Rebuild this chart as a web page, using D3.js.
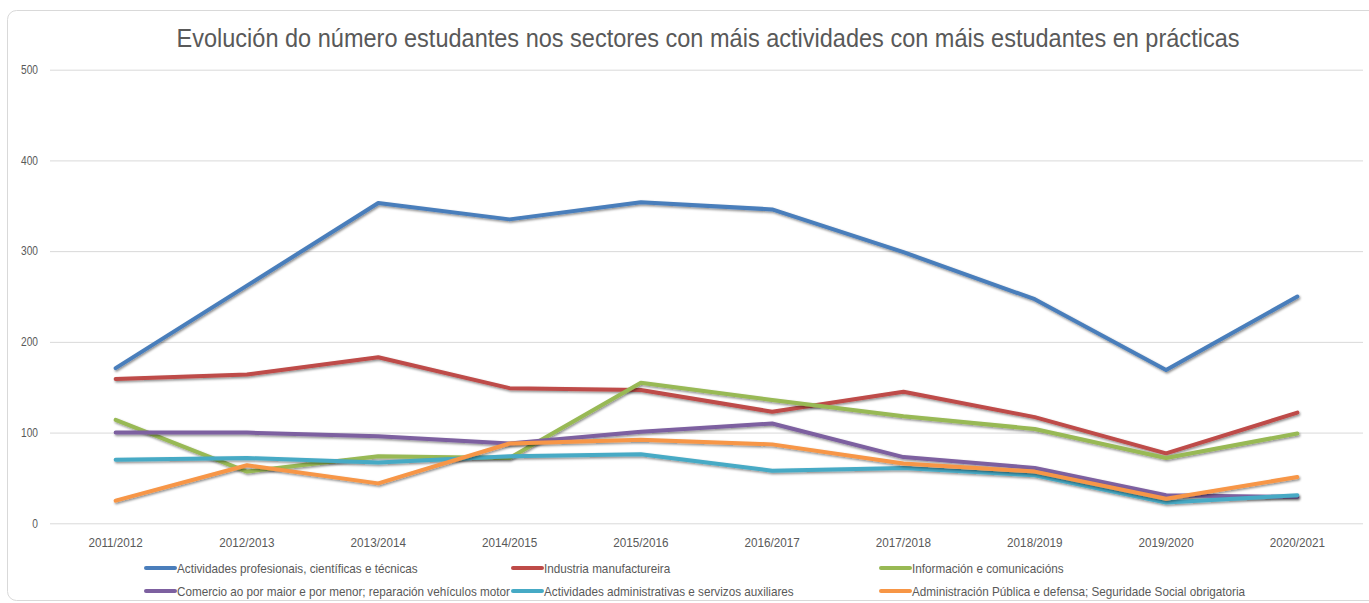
<!DOCTYPE html>
<html>
<head>
<meta charset="utf-8">
<script src="https://cdn.jsdelivr.net/npm/d3@7"></script>
<style>
  html, body { margin: 0; padding: 0; background: #fff; }
  svg { display: block; }
  text { font-family: "Liberation Sans Narrow", "Arial Narrow", "Liberation Sans", sans-serif; fill: #595959; }
</style>
</head>
<body>
<svg id="chart" width="1369" height="603"></svg>
<script>
const title = "Evolución do número estudantes nos sectores con máis actividades con máis estudantes en prácticas";
const categories = ["2011/2012","2012/2013","2013/2014","2014/2015","2015/2016","2016/2017","2017/2018","2018/2019","2019/2020","2020/2021"];
const yTicks = [0, 100, 200, 300, 400, 500];
const seriesNames = [
  "Actividades profesionais, científicas e técnicas",
  "Industria manufactureira",
  "Información e comunicacións",
  "Comercio ao por maior e por menor; reparación vehículos motor",
  "Actividades administrativas e servizos auxiliares",
  "Administración Pública e defensa; Seguridade Social obrigatoria"
];
const seriesColors = ["#4A7EBB", "#BE4B48", "#98B954", "#7D60A0", "#46AAC5", "#F79646"];
const profesionais   = [171, 262, 353, 335, 354, 346, 299, 247, 169, 250];
const industria      = [159, 164, 183, 149, 147, 123, 145, 117, 77, 122];
const informacion    = [114, 57, 74, 72, 155, 136, 118, 104, 72, 99];
const comercio       = [100, 100, 96, 88, 101, 110, 73, 61, 31, 29];
const administrativas= [70, 72, 67, 74, 76, 58, 61, 53, 23, 31];
const administracion = [25, 64, 44, 88, 92, 87, 66, 57, 27, 51];
const seriesValues = [profesionais, industria, informacion, comercio, administrativas, administracion];

const svg = d3.select("#chart");
const plot = {left: 50, right: 1363, top: 69.7, bottom: 523.3};

function condense(sel, factor) {
  sel.each(function() {
    const len = this.getComputedTextLength();
    d3.select(this).attr("textLength", len * factor).attr("lengthAdjust", "spacingAndGlyphs");
  });
}

const defs = svg.append("defs");
const f = defs.append("filter").attr("id", "shadow").attr("x", "-5%").attr("y", "-20%").attr("width", "110%").attr("height", "140%");
f.append("feDropShadow").attr("dx", 1).attr("dy", 1.5).attr("stdDeviation", 1).attr("flood-color", "#000").attr("flood-opacity", 0.45);

svg.append("rect")
  .attr("x", 7.5).attr("y", 10.5).attr("width", 1380).attr("height", 590)
  .attr("rx", 9).attr("ry", 9)
  .attr("fill", "#fff").attr("stroke", "#d9d9d9").attr("stroke-width", 1);

const t = svg.append("text")
  .attr("x", 708).attr("y", 47)
  .attr("text-anchor", "middle")
  .style("font-size", "26px")
  .text(title);
t.attr("textLength", 1063).attr("lengthAdjust", "spacingAndGlyphs");

const x = d3.scaleBand().domain(categories).range([plot.left, plot.right]);
const y = d3.scaleLinear().domain([0, 500]).range([plot.bottom, plot.top]);
const cx = d => x(d) + x.bandwidth() / 2;

const yAxis = d3.axisLeft(y).tickValues(yTicks).tickSize(-(plot.right - plot.left)).tickPadding(12);
const gy = svg.append("g").attr("transform", `translate(${plot.left},0)`).call(yAxis);
gy.select(".domain").remove();
gy.selectAll(".tick line").attr("stroke", "#d9d9d9").attr("stroke-width", 1);
gy.selectAll(".tick text").style("font-size", "12px").attr("fill", "#595959").style("font-family", "'Liberation Sans Narrow', 'Arial Narrow', 'Liberation Sans', sans-serif");
condense(gy.selectAll(".tick text"), 0.85);

const xAxis = d3.axisBottom(x).tickSize(0).tickPadding(14);
const gx = svg.append("g").attr("transform", `translate(0,${plot.bottom})`).call(xAxis);
gx.select(".domain").remove();
gx.selectAll(".tick text").style("font-size", "13px").attr("fill", "#595959").style("font-family", "'Liberation Sans Narrow', 'Arial Narrow', 'Liberation Sans', sans-serif");
condense(gx.selectAll(".tick text"), 0.9);

const line = d3.line().x((d, i) => cx(categories[i])).y(d => y(d));
seriesValues.forEach((vals, k) => {
  svg.append("path")
    .datum(vals)
    .attr("d", line)
    .attr("fill", "none")
    .attr("stroke", seriesColors[k])
    .attr("stroke-width", 4)
    .attr("stroke-linejoin", "round")
    .attr("stroke-linecap", "round")
    .attr("filter", "url(#shadow)");
});

const legCols = [146, 513, 881];
const legRows = [568, 591];
seriesNames.forEach((name, k) => {
  const lx = legCols[k % 3], ly = legRows[Math.floor(k / 3)];
  const g = svg.append("g");
  g.append("line").attr("x1", lx).attr("x2", lx + 29).attr("y1", ly).attr("y2", ly)
    .attr("stroke", seriesColors[k]).attr("stroke-width", 4).attr("stroke-linecap", "round");
  const tx = g.append("text").attr("x", lx + 31).attr("y", ly + 4.5)
    .style("font-size", "13px").text(name);
  condense(tx, 0.9);
});
</script>
</body>
</html>
